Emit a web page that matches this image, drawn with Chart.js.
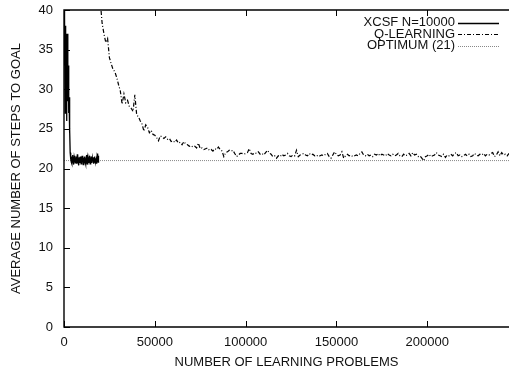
<!DOCTYPE html>
<html><head><meta charset="utf-8">
<script src="https://cdn.jsdelivr.net/npm/chart.js@4/dist/chart.umd.min.js"></script>
<style>html,body{margin:0;padding:0;background:#fff;}#wrap{width:509px;height:370px;}</style>
</head><body><div id="wrap"><canvas id="c" width="509" height="370"></canvas></div>
<script>
// ---- data ----
const seriesLabels = ["XCSF N=10000", "Q-LEARNING", "OPTIMUM (21)"];
const xTickValues = [0, 50000, 100000, 150000, 200000];
const yTickValues = [0, 5, 10, 15, 20, 25, 30, 35, 40];

// XCSF: one value every 200 problems starting at 0
const xcsfStart = 0, xcsfStep = 200;
const xcsfY = [
 41.0, 33.0, 39.0, 27.0, 38.0, 31.0, 37.0, 26.0, 36.0, 29.0,
 37.0, 28.5, 33.0, 27.0, 29.0, 24.5, 25.0, 22.0, 21.6, 21.2,
 20.8, 21.5, 20.6, 21.3, 21.7, 20.9, 21.1, 20.5, 21.4, 21.0,
 21.6, 20.7, 21.2, 20.9, 21.5, 20.6, 21.3, 21.0, 21.8, 20.8,
 21.1, 20.4, 21.4, 21.2, 20.7, 21.5, 21.0, 20.6, 21.3, 20.9,
 21.6, 20.8, 21.2, 20.5, 21.4, 21.1, 20.7, 21.5, 20.9, 21.3,
 20.6, 21.2, 21.7, 20.8, 21.0, 20.5, 21.4, 21.1, 20.7, 21.3,
 20.9, 21.6, 20.6, 21.2, 20.8, 21.5, 21.0, 20.7, 21.3, 20.9,
 21.4, 20.6, 21.1, 20.8, 21.5, 21.0, 20.7, 21.3, 20.9, 21.2,
 20.6, 21.4, 21.0, 21.9, 20.8, 21.6
];

// Q-learning: one value every 1000 problems starting at 20000
const qStart = 20000, qStep = 1000;
const qY = [
 41.0, 38.3, 37.0, 35.9, 36.4, 34.0, 33.2, 32.5, 32.2, 31.5,
 30.6, 29.8, 28.1, 29.4, 28.3, 28.6, 27.8, 27.6, 27.2, 29.3,
 26.8, 26.5, 26.0, 25.6, 24.7, 25.5, 25.2, 24.5, 24.8, 24.3,
 24.2, 23.9, 23.5, 24.1, 24.0, 23.8, 24.0, 23.7, 23.8, 23.4,
 23.5, 23.3, 23.6, 23.2, 23.3, 23.0, 23.4, 23.1, 23.0, 22.8,
 22.9, 22.7, 22.8, 22.6, 23.2, 22.5, 22.6, 22.4, 22.5, 22.6,
 22.3, 22.4, 22.2, 22.5, 22.4, 22.7, 22.4, 22.2, 21.5, 22.0,
 22.1, 22.3, 22.2, 22.3, 21.9, 21.5, 21.7, 21.9, 21.9, 21.8,
 21.9, 22.0, 22.5, 21.9, 21.8, 22.0, 21.9, 22.1, 21.8, 21.9,
 21.7, 22.0, 22.3, 22.0, 21.8, 21.5, 21.6, 21.3, 21.6, 21.5,
 21.8, 21.6, 21.7, 21.9, 21.6, 21.5, 21.7, 21.6, 22.3, 21.5,
 21.7, 21.8, 21.9, 21.7, 21.6, 21.9, 21.7, 21.8, 21.6, 21.7,
 21.5, 21.6, 21.7, 21.6, 21.8, 21.9, 21.5, 21.3, 21.7, 22.1,
 21.8, 21.6, 21.7, 22.1, 21.3, 21.6, 21.8, 21.6, 21.7, 21.5,
 21.6, 21.7, 21.6, 21.9, 22.1, 21.7, 21.6, 21.8, 21.6, 21.7,
 21.5, 21.8, 21.7, 21.9, 21.6, 21.8, 21.7, 21.6, 21.9, 21.7,
 21.6, 21.8, 21.6, 21.7, 21.9, 21.6, 21.5, 21.8, 21.6, 21.7,
 21.9, 21.6, 22.0, 21.7, 21.8, 21.5, 21.6, 21.3, 21.0, 21.5,
 21.6, 21.8, 21.5, 21.6, 21.7, 22.0, 21.7, 21.6, 21.5, 21.8,
 21.4, 21.7, 21.6, 21.8, 21.6, 21.9, 22.0, 21.6, 21.7, 21.5,
 21.6, 21.8, 21.6, 21.8, 21.5, 21.6, 21.9, 21.7, 21.6, 21.8,
 21.7, 21.9, 21.6, 21.8, 21.7, 21.9, 22.0, 21.5, 21.7, 22.1,
 21.6, 22.0, 21.7, 21.8, 21.6, 21.9
];

// optimum reference line
const optimumValue = 21;
const optimumX = [0, 245000];

const xMin = 0, xMax = 245000, yMin = 0, yMax = 40;

// ---- build ----
const FONT = {family: "'Liberation Sans', Arial, Helvetica, sans-serif", size: 13};
const TXT = '#111';

const xcsfPts = xcsfY.map((v, i) => ({x: xcsfStart + i * xcsfStep, y: v}));
const qPts = qY.map((v, i) => ({x: qStart + i * qStep, y: v}));
const optPts = optimumX.map(x => ({x: x, y: optimumValue}));

const styles = [
  {color: '#000', width: 1.3, dash: []},
  {color: '#000', width: 1.2, dash: [4, 2, 1, 2]},
  {color: '#888', width: 1, dash: [1, 1]}
];

const framePlugin = {
  id: 'frame',
  afterDatasetsDraw(chart) {
    const {ctx, chartArea: a, scales: {x, y}} = chart;
    ctx.save();
    ctx.strokeStyle = '#000';
    ctx.lineWidth = 1.4;
    ctx.beginPath();
    ctx.moveTo(a.right + 2, a.top); ctx.lineTo(a.left, a.top);
    ctx.lineTo(a.left, a.bottom); ctx.lineTo(a.right + 2, a.bottom);
    ctx.stroke();
    ctx.lineWidth = 1;
    ctx.beginPath();
    const tl = 6;
    xTickValues.forEach(v => {
      const px = Math.round(x.getPixelForValue(v)) + 0.5;
      ctx.moveTo(px, a.bottom); ctx.lineTo(px, a.bottom - tl);
      ctx.moveTo(px, a.top); ctx.lineTo(px, a.top + tl);
    });
    yTickValues.forEach(v => {
      const py = Math.round(y.getPixelForValue(v)) + 0.5;
      ctx.moveTo(a.left, py); ctx.lineTo(a.left + tl, py);
    });
    ctx.stroke();
    // legend
    ctx.font = FONT.size + 'px ' + FONT.family;
    ctx.textAlign = 'right';
    ctx.textBaseline = 'middle';
    const rows = [22.5, 34, 45.5];
    chart.data.datasets.forEach((ds, i) => {
      ctx.fillStyle = TXT;
      ctx.fillText(ds.label, 455, rows[i]);
      const st = styles[i];
      ctx.strokeStyle = st.color;
      ctx.lineWidth = st.width;
      ctx.setLineDash(st.dash);
      ctx.beginPath();
      const ly = Math.round(rows[i]) + 0.5;
      ctx.moveTo(458, ly); ctx.lineTo(499, ly);
      ctx.stroke();
      ctx.setLineDash([]);
    });
    ctx.restore();
  }
};

new Chart(document.getElementById('c'), {
  type: 'line',
  data: {
    datasets: [
      {label: seriesLabels[0], data: xcsfPts},
      {label: seriesLabels[1], data: qPts},
      {label: seriesLabels[2], data: optPts}
    ].map((d, i) => Object.assign(d, {
      borderColor: styles[i].color, borderWidth: styles[i].width, borderDash: styles[i].dash,
      pointRadius: 0, fill: false, tension: 0
    }))
  },
  options: {
    responsive: false, animation: false,
    layout: {padding: {top: 10, right: 0, left: 0, bottom: 0}},
    plugins: {legend: {display: false}, tooltip: {enabled: false}},
    scales: {
      x: {
        type: 'linear', min: xMin, max: xMax,
        grid: {display: false, drawTicks: false}, border: {display: false},
        ticks: {stepSize: 50000, padding: 8, font: FONT, color: TXT, maxRotation: 0, autoSkip: false,
                callback: v => String(v)},
        afterBuildTicks: s => { s.ticks = xTickValues.map(v => ({value: v})); },
        title: {display: true, text: 'NUMBER OF LEARNING PROBLEMS', font: FONT, color: TXT, padding: {top: 0, bottom: 0}},
        afterFit: s => { s.height = 43; s.paddingLeft = 0; s.paddingRight = 0; }
      },
      y: {
        type: 'linear', min: yMin, max: yMax,
        grid: {display: false, drawTicks: false}, border: {display: false},
        ticks: {stepSize: 5, padding: 11, font: FONT, color: TXT},
        afterBuildTicks: s => { s.ticks = yTickValues.map(v => ({value: v})); },
        title: {display: true, text: 'AVERAGE NUMBER OF STEPS TO GOAL', font: FONT, color: TXT, padding: {top: 9, bottom: 0}},
        afterFit: s => { s.width = 64; s.paddingTop = 0; s.paddingBottom = 0; }
      }
    }
  },
  plugins: [framePlugin]
});
</script>
</body></html>
